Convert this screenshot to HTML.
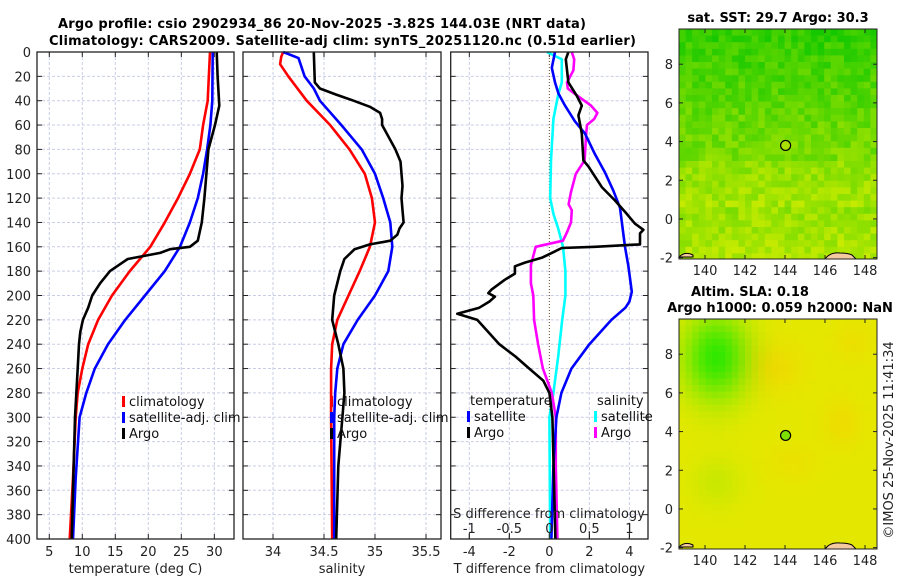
<!DOCTYPE html>
<html><head><meta charset="utf-8">
<style>
html,body{margin:0;padding:0;background:#fff;}
svg{display:block;font-family:"DejaVu Sans","Liberation Sans",sans-serif;}
</style></head>
<body>
<svg id="fig" width="900" height="580" viewBox="0 0 900 580" xmlns="http://www.w3.org/2000/svg">
  <text x="58" y="28" font-size="13" font-weight="bold" textLength="528" lengthAdjust="spacing">Argo profile: csio 2902934_86 20-Nov-2025 -3.82S 144.03E (NRT data)</text>
  <text x="49" y="45" font-size="13" font-weight="bold" textLength="587" lengthAdjust="spacing">Climatology: CARS2009. Satellite-adj clim: synTS_20251120.nc (0.51d earlier)</text>
  <g id="p1"></g>
  <g id="p2"></g>
  <g id="p3"></g>
  <g id="m1"></g>
  <g id="m2"></g>
  <text x="778" y="22" text-anchor="middle" font-size="13" font-weight="bold">sat. SST: 29.7 Argo: 30.3</text>
  <text x="750" y="296" text-anchor="middle" font-size="13" font-weight="bold">Altim. SLA: 0.18</text>
  <text x="780" y="312" text-anchor="middle" font-size="13" font-weight="bold">Argo h1000: 0.059 h2000: NaN</text>
  <text transform="translate(893,440) rotate(-90)" text-anchor="middle" font-size="13" fill="#222">©IMOS 25-Nov-2025 11:41:34</text>
</svg>
<script>
// ---- data ----
const depthTicks = [0,20,40,60,80,100,120,140,160,180,200,220,240,260,280,300,320,340,360,380,400];
const tempTicks = [5,10,15,20,25,30];
const salTicks = [34,34.5,35,35.5];
const tdiffTicks = [-4,-2,0,2,4];
const sdiffTicks = [-1,-0.5,0,0.5,1];

const tClimDepth = [0,40,60,80,100,120,140,160,180,200,220,240,260,280,300,350,400];
const tClimVal   = [29.35,29.0,28.3,27.8,26.3,24.5,22.5,20.3,17.2,14.5,12.4,10.9,10.0,9.3,9.0,8.6,8.1];
const tSatDepth  = [0,40,60,80,100,120,140,160,180,200,220,240,260,280,300,350,400];
const tSatVal    = [29.76,29.7,29.4,28.9,28.3,27.5,26.3,24.8,22.5,19.5,16.5,13.9,11.9,10.6,9.6,9.0,8.6];
const tArgoDepth = [0,20,44,60,80,100,120,140,155,160,162,165,170,180,190,200,210,220,230,240,260,300,400];
const tArgoVal   = [30.36,30.5,30.76,30.1,29.1,28.8,28.5,28.1,27.5,26.3,23.3,21.8,16.9,14.2,12.7,11.5,10.9,10.1,9.7,9.5,9.3,8.9,8.4];

const sClimDepth = [0,4,10,20,40,60,80,100,120,140,160,180,200,220,240,260,300,400];
const sClimVal   = [34.10,34.08,34.07,34.15,34.33,34.56,34.75,34.9,34.97,35.0,34.95,34.85,34.74,34.63,34.58,34.57,34.57,34.58];
const sSatDepth  = [0,5,20,30,40,60,80,100,120,140,160,180,200,220,240,260,280,300,400];
const sSatVal    = [34.10,34.25,34.31,34.4,34.46,34.67,34.87,35.0,35.08,35.15,35.17,35.13,35.0,34.83,34.69,34.63,34.61,34.6,34.6];
const sArgoDepth = [0,25,30,35,40,45,50,55,60,80,90,100,110,120,130,140,145,150,155,158,162,170,180,200,220,240,260,280,300,340,400];
const sArgoVal   = [34.4,34.41,34.46,34.62,34.79,34.95,35.05,35.07,35.07,35.2,35.25,35.26,35.27,35.26,35.27,35.28,35.24,35.22,35.15,34.95,34.8,34.7,34.66,34.6,34.58,34.64,34.69,34.7,34.68,34.64,34.62];

const dTArgoDepth = [0,6,25,36,44,52,67,89,94,111,122,133,141,146,149,158,160,161,165,169,173,176,182,187,195,198,201,205,210,215,220,240,250,260,270,280,300,400];
const dTArgoVal   = [0.95,0.82,0.95,1.37,1.62,1.45,1.62,1.7,1.95,2.62,3.28,3.87,4.28,4.7,4.53,4.53,2.28,0.62,0.12,-0.38,-1.22,-1.72,-1.72,-2.22,-2.88,-3.05,-2.72,-3.0,-3.5,-4.6,-3.6,-2.5,-1.7,-1.0,-0.3,0.0,0.15,0.3];
const dTSatDepth  = [0,13,25,34,44,57,67,84,99,114,128,160,176,197,205,210,220,240,260,280,300,340,400];
const dTSatVal    = [0.28,0.12,0.28,0.45,0.78,1.28,1.78,2.28,2.78,3.2,3.53,3.78,3.95,4.12,4.0,3.8,3.1,2.0,1.1,0.6,0.35,0.2,0.1];
const dSSatDepth  = [0,6,25,35,55,89,120,133,145,160,180,200,220,250,280,300,400];
const dSSatVal    = [-0.03,0.155,0.155,0.11,0.05,0.02,0.01,0.05,0.11,0.17,0.2,0.2,0.16,0.11,0.05,0.0,0.01];
const dSArgoDepth = [0,6,15,25,30,35,44,50,55,60,67,89,100,115,125,130,140,148,155,160,165,175,190,200,220,240,260,280,300,340,400];
const dSArgoVal   = [0.28,0.31,0.30,0.22,0.23,0.33,0.52,0.6,0.56,0.47,0.46,0.44,0.33,0.27,0.24,0.28,0.27,0.22,0.17,-0.17,-0.19,-0.23,-0.23,-0.2,-0.19,-0.14,-0.08,0.03,0.08,0.08,0.1];

const mapLonTicks = [140,142,144,146,148];
const mapLatTicks = [-2,0,2,4,6,8];
const argoLon = [144.03];
const argoLat = [3.8];

// ---- helpers ----
const NS='http://www.w3.org/2000/svg';
function mk(tag, attrs, parent){const e=document.createElementNS(NS,tag);for(const k in attrs)e.setAttribute(k,attrs[k]);if(parent)parent.appendChild(e);return e;}
const TOP=52, BOT=539;
function yD(d){return TOP+(BOT-TOP)*d/400;}
function lin(d0,d1,r0,r1){return v=>r0+(v-d0)*(r1-r0)/(d1-d0);}

const P = [
  {id:'p1', x0:37, x1:234, sx:lin(3.14,32.98,37,234), ticks:tempTicks, label:'temperature (deg C)', name:'temperature'},
  {id:'p2', x0:243, x1:441, sx:lin(33.706,35.647,243,441), ticks:salTicks, label:'salinity', name:'salinity'},
  {id:'p3', x0:450.7, x1:648, sx:lin(-4.93,4.93,450.7,648), ticks:tdiffTicks, label:'T difference from climatology', name:'t-difference'}
];
const sxS3 = lin(-1.2325,1.2325,450.7,648);

function drawAxes(p, showY){
  const g=document.getElementById(p.id);
  const grid=mk('g',{},g);
  
  
  depthTicks.forEach(d=>{
    if(d>0&&d<400) mk('line',{x1:p.x0,x2:p.x1,y1:yD(d),y2:yD(d),stroke:'#c9cde6','stroke-width':1,'stroke-dasharray':'3,2'},grid);
    mk('line',{x1:p.x0,x2:p.x0+5,y1:yD(d),y2:yD(d),stroke:'#222','stroke-width':1},grid);
    mk('line',{x1:p.x1-5,x2:p.x1,y1:yD(d),y2:yD(d),stroke:'#222','stroke-width':1},grid);
    if(showY){
      const t=mk('text',{x:p.x0-6,y:yD(d)+5,'text-anchor':'end','font-size':13,fill:'#222'},g);
      
      
      t.textContent=d;
    }
  });
  p.ticks.forEach(v=>{
    const x=p.sx(v);
    if(!(p.id==='p3'&&v===0)) mk('line',{x1:x,x2:x,y1:TOP,y2:BOT,stroke:'#c9cde6','stroke-width':1,'stroke-dasharray':'3,2'},grid);
    mk('line',{x1:x,x2:x,y1:TOP,y2:TOP+5,stroke:'#222'},grid);
    mk('line',{x1:x,x2:x,y1:BOT-5,y2:BOT,stroke:'#222'},grid);
    const t=mk('text',{x:x,y:556,'text-anchor':'middle','font-size':13,fill:'#222'},g);
    
    
    t.textContent=v;
  });
  const lab=mk('text',{x:(p.x0+p.x1)/2,y:573,'text-anchor':'middle','font-size':13,fill:'#222'},g);
  
  
  lab.textContent=p.label;
}
function drawLine(gid, depths, vals, sx, color, name, w){
  const g=document.getElementById(gid);
  const pts=depths.map((d,i)=>sx(vals[i]).toFixed(1)+','+yD(d).toFixed(1)).join(' ');
  const l=mk('polyline',{points:pts,fill:'none',stroke:color,'stroke-width':w||2.6,'stroke-linejoin':'round'},g);
  
  
}
function frame(p){
  const g=document.getElementById(p.id);
  const r=mk('rect',{x:p.x0,y:TOP,width:p.x1-p.x0,height:BOT-TOP,fill:'none',stroke:'#222','stroke-width':1.3},g);
  
  
}
function legend(gid, x, y, items){
  const g=document.getElementById(gid);
  items.forEach((it,i)=>{
    if(it.color){
      const b=mk('rect',{x:x,y:y+i*16-10,width:3,height:11,fill:it.color},g);
      
      
    }
    const t=mk('text',{x:x+(it.color?7:3),y:y+i*16,'font-size':13,fill:'#111'},g);
    
    
    t.textContent=it.text;
  });
}

P.forEach(p=>{mk('rect',{x:p.x0,y:TOP,width:p.x1-p.x0,height:BOT-TOP,fill:'#fff'},document.getElementById(p.id));});
drawAxes(P[0],true); drawAxes(P[1],false); drawAxes(P[2],false);

(function(){const g=document.getElementById('p3');const x=P[2].sx(0);
 const l=mk('line',{x1:x,x2:x,y1:TOP,y2:BOT,stroke:'#6b4a2a','stroke-width':1,'stroke-dasharray':'1,2'},g);
 
 })();

drawLine('p1',tClimDepth,tClimVal,P[0].sx,'#ff0000','temp-climatology-line');
drawLine('p1',tSatDepth,tSatVal,P[0].sx,'#0000ff','temp-satellite-line');
drawLine('p1',tArgoDepth,tArgoVal,P[0].sx,'#000000','temp-argo-line');
drawLine('p2',sClimDepth,sClimVal,P[1].sx,'#ff0000','sal-climatology-line');
drawLine('p2',sSatDepth,sSatVal,P[1].sx,'#0000ff','sal-satellite-line');
drawLine('p2',sArgoDepth,sArgoVal,P[1].sx,'#000000','sal-argo-line');
drawLine('p3',dSSatDepth,dSSatVal,sxS3,'#00ffff','sdiff-satellite-line');
drawLine('p3',dSArgoDepth,dSArgoVal,sxS3,'#ff00ff','sdiff-argo-line');
drawLine('p3',dTSatDepth,dTSatVal,P[2].sx,'#0000ff','tdiff-satellite-line');
drawLine('p3',dTArgoDepth,dTArgoVal,P[2].sx,'#000000','tdiff-argo-line');

(function(){const g=document.getElementById('p3');
 sdiffTicks.forEach(v=>{const x=sxS3(v);
  mk('line',{x1:x,x2:x,y1:533,y2:539,stroke:'#222'},g);
  const t=mk('text',{x:x,y:533,'text-anchor':'middle','font-size':13,fill:'#222'},g);
  
  
  t.textContent=v;});
 const t=mk('text',{x:549,y:518,'text-anchor':'middle','font-size':13,fill:'#222'},g);
 
 
 t.textContent='S difference from climatology';
})();

P.forEach(frame);

legend('p1',122,406,[{key:'climatology',color:'#ff0000',text:'climatology'},{key:'satellite-adj',color:'#0000ff',text:'satellite-adj. clim'},{key:'argo',color:'#000',text:'Argo'}]);
legend('p2',330,406,[{key:'climatology',color:'#ff0000',text:'climatology'},{key:'satellite-adj',color:'#0000ff',text:'satellite-adj. clim'},{key:'argo',color:'#000',text:'Argo'}]);
legend('p3',467,405,[{key:'temperature-header',text:'temperature'},{key:'t-satellite',color:'#0000ff',text:'satellite'},{key:'t-argo',color:'#000',text:'Argo'}]);
legend('p3',594,405,[{key:'salinity-header',text:'salinity'},{key:'s-satellite',color:'#00ffff',text:'satellite'},{key:'s-argo',color:'#ff00ff',text:'Argo'}]);

// ---- maps ----
function hash(i,j){let h=(i*374761393+j*668265263)^0x5bd1e995;h=(h^(h>>>13))*1274126177;h=h^(h>>>16);return ((h>>>0)%1000)/1000;}
function drawMap(gid, top, bot, kind){
  const g=document.getElementById(gid);
  const L=679, R=877;
  const lonS=lin(138.7,148.6,L,R);
  const latS=lin(8,-2,top+(bot-top)*(9.82-8)/11.89,bot-(bot-top)*0.07/11.89);
  const bg=mk('rect',{x:L,y:top,width:R-L,height:bot-top,fill:kind==='sst'?'#7fe000':'#e4e800'},g);
  
  
  const cells=mk('g',{},g);
  
  
  const cw=6.6, ch=6.6;
  for(let j=0;j*ch<bot-top;j++){
    for(let i=0;i*cw<R-L;i++){
      const fy=j*ch/(bot-top), r=hash(i,j);
      let col;
      if(kind==='sst'){
        let v = fy<0.3 ? 0.15+fy*0.8 : 0.4+ (fy-0.3)*0.7;
        if(fy>0.55&&fy<0.75) v+=0.1;
        v += (r-0.5)*0.35;
        v=Math.max(0,Math.min(1,v));
        const rr=Math.round(20+v*180), gg=Math.round(200+v*35);
        col='rgb('+rr+','+gg+',0)';
      } else {
        const x=i*cw, y=j*ch;
        const dx=(x-34)/32, dy=(y-35)/42;
        let v=Math.exp(-(dx*dx+dy*dy));
        const dx2=(x-35)/25, dy2=(y-160)/25;
        v+=0.15*Math.exp(-(dx2*dx2+dy2*dy2));
        const o1=Math.exp(-(((x-90)/30)**2+((y-45)/25)**2)) + Math.exp(-(((x-160)/20)**2+((y-100)/25)**2))*0.8 + Math.exp(-(((x-170)/20)**2+((y-20)/20)**2))*0.6 + Math.exp(-(((x-110)/25)**2+((y-140)/20)**2))*0.5;
        const rr=Math.round(228-v*180+o1*12), gg=Math.round(232-o1*14), bb=0;
        col='rgb('+Math.max(0,Math.min(255,rr))+','+Math.max(0,Math.min(255,gg))+','+bb+')';
      }
      mk('rect',{x:L+i*cw,y:top+j*ch,width:Math.min(cw,R-L-i*cw)+0.3,height:Math.min(ch,bot-top-j*ch)+0.3,fill:col},cells);
    }
  }
  mk('path',{d:'M'+L+','+(bot-2)+' q6,-6 14,-2 l0,2 z',fill:'#f5c9a0',stroke:'#000','stroke-width':1},g);
  mk('path',{d:'M825,'+bot+' q5,-7 15,-6 q8,0 12,2 l4,4 z',fill:'#f5c9a0',stroke:'#000','stroke-width':1},g);
  const c=mk('circle',{cx:lonS(argoLon[0]),cy:latS(argoLat[0]),r:5,fill:kind==='sst'?'#a8e000':'#7ee000',stroke:'#000','stroke-width':1.2},g);
  
  
  const fr=mk('rect',{x:L,y:top,width:R-L,height:bot-top,fill:'none',stroke:'#222','stroke-width':1},g);
  
  
  mapLonTicks.forEach(v=>{const x=lonS(v);
    mk('line',{x1:x,x2:x,y1:bot-4,y2:bot,stroke:'#222'},g);
    mk('line',{x1:x,x2:x,y1:top,y2:top+4,stroke:'#222'},g);
    const t=mk('text',{x:x,y:bot+16,'text-anchor':'middle','font-size':13,fill:'#222'},g);
    
    
    t.textContent=v;});
  mapLatTicks.forEach(v=>{const y=latS(v);
    mk('line',{x1:L,x2:L+4,y1:y,y2:y,stroke:'#222'},g);
    mk('line',{x1:R-4,x2:R,y1:y,y2:y,stroke:'#222'},g);
    const t=mk('text',{x:L-6,y:y+5,'text-anchor':'end','font-size':13,fill:'#222'},g);
    
    
    t.textContent=v;});
}
drawMap('m1',29,259,'sst');
drawMap('m2',319,549,'sla');
</script>
</body></html>
